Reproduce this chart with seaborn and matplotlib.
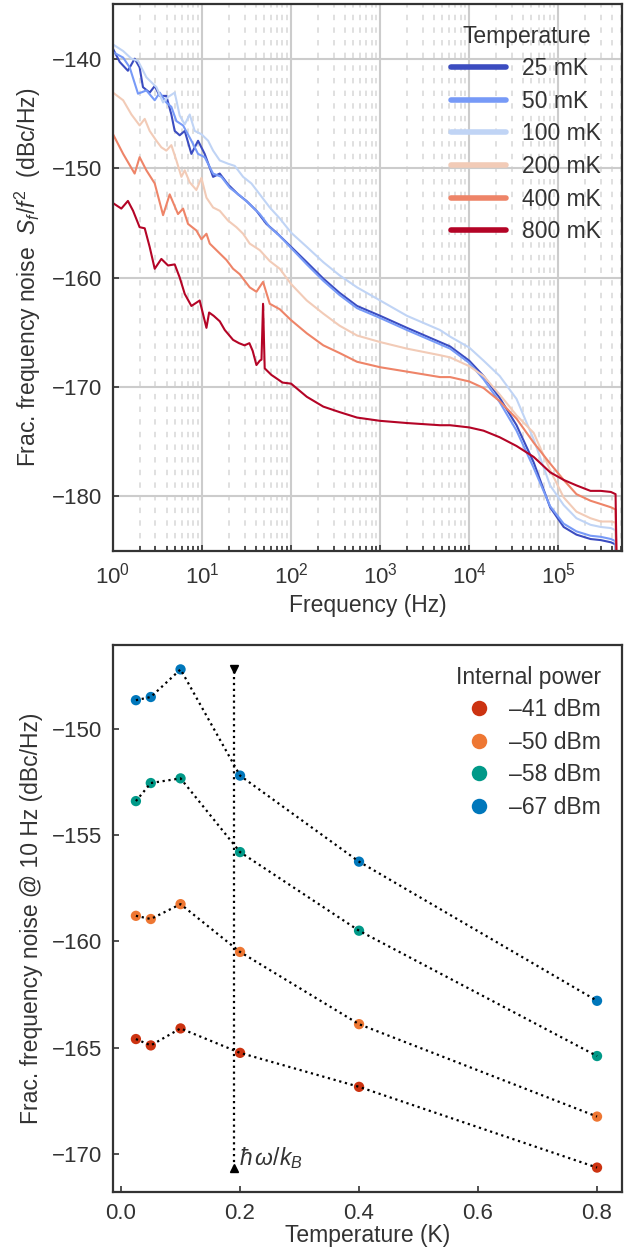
import numpy as np
import pandas as pd
import matplotlib
matplotlib.use('Agg')
import matplotlib.pyplot as plt
from matplotlib.ticker import LogLocator, NullFormatter
import seaborn as sns

sns.set_theme(style='white')
ink = '#333333'
plt.rcParams['font.family'] = ['Liberation Sans', 'DejaVu Sans']
plt.rcParams['mathtext.fontset'] = 'custom'
plt.rcParams['mathtext.rm'] = 'Liberation Sans'
plt.rcParams['mathtext.it'] = 'Liberation Sans:italic'
plt.rcParams['mathtext.bf'] = 'Liberation Sans:bold'
plt.rcParams['font.size'] = 16
plt.rcParams['xtick.labelsize'] = 16
plt.rcParams['ytick.labelsize'] = 16
plt.rcParams['axes.labelsize'] = 16.5
plt.rcParams['legend.fontsize'] = 16.5
plt.rcParams['legend.title_fontsize'] = 16.5
for key in ['text.color', 'axes.labelcolor', 'xtick.color', 'ytick.color', 'axes.edgecolor']:
    plt.rcParams[key] = ink

# ---------------- top panel: noise spectra ----------------
temps = ['25 mK', '50 mK', '100 mK', '200 mK', '400 mK', '800 mK']
temp_colors = ['#3b4cc0', '#779af7', '#c0d4f5', '#f2cbb7', '#ee8468', '#b40426']

# common high-frequency part (Hz)
f_hi = [100, 150, 230, 350, 550, 1000, 2000, 4700, 6100, 1e4, 1.45e4, 2.2e4, 3.4e4, 5.3e4,
        8.1e4, 1.15e5, 1.6e5, 2.3e5, 3e5, 3.9e5, 4.4e5, 4.7e5]

f_25 = [1.0, 1.19, 1.47, 1.75, 1.99, 2.17, 2.58, 2.94, 3.35, 3.97, 4.52, 4.93, 5.61, 6.39, 7.59,
        9.02, 10.7, 13.3, 15.8, 19.6, 25.4, 31.5, 40.8, 52.8, 68.4]
n_25 = [-139.1, -140.3, -141.1, -140.0, -140.8, -142.6, -143.1, -142.5, -143.4, -143.4, -145.1,
        -146.6, -147.0, -146.6, -148.7, -147.5, -148.7, -150.8, -150.5, -151.5, -152.4, -153.0,
        -153.9, -155.1, -155.9,
        -157.2, -158.6, -160.1, -161.4, -162.6, -163.5, -164.6, -165.9, -166.3, -167.6, -169.0,
        -171.0, -173.5, -176.9, -181.0, -182.8, -183.5, -183.9, -184.0, -184.2, -184.4, -195]

f_50 = [1.0, 1.30, 1.54, 1.91, 2.37, 2.94, 3.35, 3.97, 4.52, 5.15, 6.12, 7.59, 9.02, 10.7, 13.3,
        16.5, 20.5, 26.5, 34.3, 44.5, 57.6, 74.6]
n_50 = [-139.4, -139.9, -140.8, -143.2, -142.9, -143.8, -143.1, -144.0, -144.4, -145.7, -146.1,
        -147.5, -148.7, -149.0, -150.5, -150.8, -151.8, -152.5, -153.3, -154.2, -155.4, -156.2,
        -157.3, -158.8, -160.3, -161.6, -162.8, -163.7, -164.8, -166.1, -166.5, -167.8, -169.3,
        -171.4, -174.0, -177.4, -180.9, -182.5, -183.2, -183.6, -183.7, -183.9, -184.1, -195]

f_100 = [1.0, 1.30, 1.61, 1.91, 2.37, 3.07, 3.65, 4.15, 4.93, 5.61, 6.39, 7.27, 8.27, 9.83, 11.7,
         13.3, 15.8, 19.6, 23.3, 28.9, 35.8, 44.5, 57.6, 74.6]
n_100 = [-138.7, -139.3, -140.0, -140.2, -141.7, -142.6, -144.0, -143.5, -143.1, -145.2, -146.0,
         -145.1, -146.6, -146.9, -147.5, -148.4, -149.3, -149.6, -149.8, -150.8, -151.4, -152.4,
         -153.6, -154.6,
         -155.9, -157.2, -158.6, -159.8, -160.9, -162.1, -163.5, -164.8, -165.4, -166.4, -167.6,
         -169.0, -171.1, -174.8, -179.0, -180.8, -182.0, -182.6, -182.8, -182.9, -183.1, -195]

f_200 = [1.0, 1.30, 1.61, 1.99, 2.27, 2.58, 3.07, 3.49, 3.97, 4.52, 5.15, 5.86, 6.39, 7.27, 8.63,
         9.83, 11.2, 13.3, 15.8, 19.6, 24.3, 28.9, 34.3, 44.5, 57.6, 74.6]
n_200 = [-143.1, -143.8, -145.1, -146.1, -145.5, -146.6, -147.5, -148.1, -148.4, -147.9, -149.3,
         -150.8, -150.2, -151.3, -152.0, -150.9, -152.7, -153.6, -153.9, -154.8, -155.4, -156.0,
         -156.9, -157.5, -158.5, -159.2,
         -160.6, -162.1, -163.3, -164.4, -165.3, -165.9, -166.5, -167.1, -167.3, -168.1, -169.0,
         -170.7, -172.6, -174.2, -177.6, -180.1, -181.4, -182.0, -182.3, -182.3, -182.4, -195]

f_400 = [1.0, 1.30, 1.75, 1.99, 2.37, 2.94, 3.65, 4.33, 5.37, 6.12, 6.96, 8.63, 9.83, 11.2, 12.2,
         13.3, 18.8, 22.3, 26.5, 34.3, 40.8, 48.4, 57.6, 74.6]
n_400 = [-146.9, -148.7, -150.5, -149.0, -150.2, -151.4, -154.3, -152.4, -154.2, -153.7, -155.1,
         -155.7, -156.5, -156.0, -156.9, -157.2, -158.4, -159.2, -159.7, -160.9, -161.3, -160.4,
         -162.4, -162.9,
         -163.9, -165.1, -166.2, -166.9, -167.7, -168.2, -168.6, -169.1, -169.1, -169.5, -170.1,
         -171.3, -172.9, -175.1, -177.0, -178.5, -179.8, -180.4, -180.7, -181.0, -181.2, -195]

f_800 = [1.0, 1.24, 1.47, 1.68, 1.99, 2.27, 2.58, 2.94, 3.49, 4.15, 4.93, 5.61, 6.39, 7.59, 9.4,
         11.2, 12.0, 13.5, 15.8, 18.0, 22.3, 26.0, 30.0, 34.0, 37.0, 40.8, 44.5, 46.5, 48.4, 50.5,
         60.0, 68.0, 80.0]
n_800 = [-153.2, -153.7, -153.0, -153.9, -155.4, -155.5, -157.2, -159.2, -158.3, -158.9, -158.8,
         -160.0, -161.5, -162.6, -162.1, -164.6, -163.2, -163.5, -164.0, -164.8, -165.7, -166.0,
         -166.2, -166.0, -166.7, -168.0, -167.6, -167.5, -162.4, -168.3, -168.9, -169.2, -169.6,
         -169.7, -170.9, -171.8, -172.3, -172.8, -173.1, -173.3, -173.5, -173.5, -173.7, -174.0,
         -174.6, -175.4, -176.4, -177.8, -178.5, -179.0, -179.5, -179.5, -179.6, -179.8, -195]

freqs = [f_25, f_50, f_100, f_200, f_400, f_800]
noises = [n_25, n_50, n_100, n_200, n_400, n_800]

# ---------------- bottom panel: noise at 10 Hz vs temperature ----------------
temperature_K = [0.025, 0.05, 0.1, 0.2, 0.4, 0.8]
powers = ['\u201341 dBm', '\u201350 dBm', '\u201358 dBm', '\u201367 dBm']
power_colors = ['#cc3311', '#ee7733', '#009988', '#0077bb']
noise_41 = [-164.6, -164.9, -164.1, -165.25, -166.85, -170.65]
noise_50 = [-158.8, -158.95, -158.25, -160.5, -163.9, -168.25]
noise_58 = [-153.4, -152.55, -152.33, -155.8, -159.5, -165.4]
noise_67 = [-148.65, -148.5, -147.2, -152.2, -156.25, -162.8]
hbar_omega_over_kB = 0.19  # K

spectra = pd.concat([pd.DataFrame({'Frequency': f + f_hi, 'Noise': n, 'Temperature': t})
                     for f, n, t in zip(freqs, noises, temps)], ignore_index=True)

points = pd.concat([pd.DataFrame({'T': temperature_K, 'Noise': n, 'Power': p})
                    for n, p in zip([noise_41, noise_50, noise_58, noise_67], powers)],
                   ignore_index=True)

fig = plt.figure(figsize=(6.41, 12.47), dpi=100)
ax1 = fig.add_axes([0.1763, 0.5581, 0.7941, 0.4387])
ax2 = fig.add_axes([0.1763, 0.0441, 0.7941, 0.4387])

# top
ax1.set_xscale('log')
sns.lineplot(data=spectra, x='Frequency', y='Noise', hue='Temperature', hue_order=temps,
             palette=temp_colors, estimator=None, sort=False, lw=1.5, ax=ax1)
ax1.set_xlim(1, 5.2e5)
ax1.set_ylim(-185, -135)
ax1.set_yticks([-180, -170, -160, -150, -140])
ax1.xaxis.set_major_locator(LogLocator(base=10, numticks=10))
ax1.xaxis.set_minor_locator(LogLocator(base=10, subs=np.arange(2, 10), numticks=20))
ax1.xaxis.set_minor_formatter(NullFormatter())
ax1.set_axisbelow(True)
ax1.grid(True, which='major', color='#cccccc', lw=1.5)
ax1.grid(True, which='minor', axis='x', color='#dddddd', lw=1.3, ls=(0, (3, 4)))
ax1.tick_params(which='both', direction='in', bottom=True, left=True, width=1.2)
ax1.tick_params(which='major', length=4, pad=8)
ax1.tick_params(which='minor', length=3.5)
ax1.set_xlabel('Frequency (Hz)', labelpad=4)
ax1.set_ylabel(r'Frac. frequency noise  $S_f/f^2$  (dBc/Hz)', labelpad=6)
h, l = ax1.get_legend_handles_labels()
leg = ax1.legend(h, l, title='Temperature', frameon=False, loc='upper right',
                 handlelength=2.4, labelspacing=0.42, borderaxespad=0.5, handletextpad=0.7)
for line in leg.get_lines():
    line.set_linewidth(4)
    line.set_solid_capstyle('round')

# bottom
sns.lineplot(data=points, x='T', y='Noise', units='Power', estimator=None, color='black',
             ls=':', lw=1.6, zorder=4, ax=ax2, legend=False)
sns.scatterplot(data=points, x='T', y='Noise', hue='Power', hue_order=powers,
                palette=power_colors, s=55, linewidth=0, zorder=3, ax=ax2)
y_hi, y_lo = points['Noise'].max(), points['Noise'].min()
ax2.plot([hbar_omega_over_kB, hbar_omega_over_kB], [y_lo, y_hi], ls=':', color='black', lw=1.6)
ax2.plot([hbar_omega_over_kB], [y_hi], marker='v', color='black', ms=6)
ax2.plot([hbar_omega_over_kB], [y_lo], marker='^', color='black', ms=6)
ax2.text(hbar_omega_over_kB + 0.008, y_lo + 0.45, r'$\hbar\,\omega/k_B$', va='center', ha='left',
         fontsize=16.5)
ax2.set_xlim(-0.0135, 0.842)
ax2.set_ylim(-171.8, -146.05)
ax2.set_xticks([0.0, 0.2, 0.4, 0.6, 0.8])
ax2.set_yticks([-170, -165, -160, -155, -150])
ax2.tick_params(which='both', direction='in', bottom=True, left=True, length=4, width=1.2, pad=8)
ax2.set_xlabel('Temperature (K)', labelpad=0)
ax2.set_ylabel('Frac. frequency noise @ 10 Hz (dBc/Hz)', labelpad=6)
h, l = ax2.get_legend_handles_labels()
ax2.legend(h, l, title='Internal power', frameon=False, loc='upper right', markerscale=1.5,
           handletextpad=0.3, labelspacing=0.42, borderaxespad=0.5)

for ax in (ax1, ax2):
    for s in ax.spines.values():
        s.set_linewidth(1.6)
        s.set_color(ink)

fig.savefig('out.png', dpi=100)
